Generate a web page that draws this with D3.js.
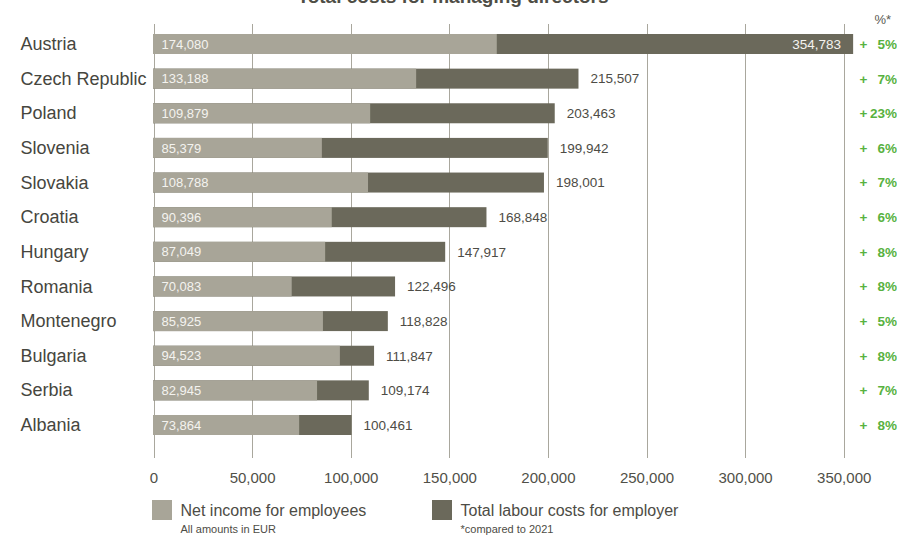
<!DOCTYPE html>
<html>
<head>
<meta charset="utf-8">
<script src="https://cdn.jsdelivr.net/npm/d3@7/dist/d3.min.js"></script>
<style>
  html, body { margin: 0; padding: 0; background: #ffffff; }
  svg { display: block; font-family: "Liberation Sans", Arial, Helvetica, sans-serif; }
</style>
</head>
<body>
<svg id="chart" width="897" height="538"></svg>
<script>
// Managing-director costs per country, in EUR
const countries = ["Austria", "Czech Republic", "Poland", "Slovenia", "Slovakia", "Croatia",
                   "Hungary", "Romania", "Montenegro", "Bulgaria", "Serbia", "Albania"];
const netIncome = [174080, 133188, 109879, 85379, 108788, 90396, 87049, 70083, 85925, 94523, 82945, 73864];
const totalCost = [354783, 215507, 203463, 199942, 198001, 168848, 147917, 122496, 118828, 111847, 109174, 100461];
const changePct = [5, 7, 23, 6, 7, 6, 8, 8, 5, 8, 7, 8];
const tickValues = [0, 50000, 100000, 150000, 200000, 250000, 300000, 350000];

const rows = countries.map((c, i) => ({
  country: c, net: netIncome[i], total: totalCost[i], pct: changePct[i]
}));

const colors = {
  net: "#a8a598",
  total: "#6b695b",
  grid: "#a9a79d",
  text: "#46463e",
  green: "#58b23f"
};

const svg = d3.select("#chart");
const fmt = d3.format(",");

const x = d3.scaleLinear().domain([0, 350000]).range([153.5, 843.7]);
const y = d3.scaleBand().domain(countries).range([34, 435]).paddingInner(0.4226).paddingOuter(0);

// Title
svg.append("text")
  .attr("x", 453).attr("y", 3)
  .attr("text-anchor", "middle")
  .attr("font-size", 19).attr("font-weight", "bold")
  .attr("fill", "#4e4d45")
  .text("Total costs for managing directors");

// Axis labels below the chart
const xAxis = d3.axisBottom(x).tickValues(tickValues).tickFormat(fmt).tickSize(0).tickPadding(0);
const gAxis = svg.append("g").attr("transform", "translate(0,458)").call(xAxis);
gAxis.select(".domain").remove();
gAxis.selectAll(".tick line").remove();
gAxis.selectAll(".tick text")
  .attr("y", 24.5).attr("dy", null)
  .attr("font-size", 15)
  .attr("font-family", "Liberation Sans, Arial, sans-serif")
  .attr("fill", "#505048");

// Vertical gridlines
svg.append("g").selectAll("line")
  .data(tickValues)
  .join("line")
  .attr("x1", d => Math.round(x(d)) + 0.5)
  .attr("x2", d => Math.round(x(d)) + 0.5)
  .attr("y1", 24).attr("y2", 458)
  .attr("stroke", colors.grid).attr("stroke-width", 1);

// Bars: total cost behind, net income in front
const bars = svg.append("g");
bars.selectAll("rect.total")
  .data(rows).join("rect")
  .attr("class", "total")
  .attr("x", x(0) - 0.5)
  .attr("y", d => y(d.country))
  .attr("width", d => x(d.total) - x(0) + 0.5)
  .attr("height", y.bandwidth())
  .attr("fill", colors.total);

bars.selectAll("rect.net")
  .data(rows).join("rect")
  .attr("class", "net")
  .attr("x", x(0) - 0.5)
  .attr("y", d => y(d.country))
  .attr("width", d => x(d.net) - x(0) + 0.5)
  .attr("height", y.bandwidth())
  .attr("fill", colors.net);

// Net income labels inside the light bars
svg.append("g").selectAll("text")
  .data(rows).join("text")
  .attr("x", x(0) + 8)
  .attr("y", d => y(d.country) + y.bandwidth() / 2)
  .attr("dy", "0.36em")
  .attr("font-size", 13)
  .attr("fill", "#f4f3ef")
  .text(d => fmt(d.net));

// Total labels: outside the bar, or inside when the bar reaches the right edge
svg.append("g").selectAll("text")
  .data(rows).join("text")
  .attr("x", d => d.total > 300000 ? x(d.total) - 12 : x(d.total) + 12)
  .attr("text-anchor", d => d.total > 300000 ? "end" : "start")
  .attr("y", d => y(d.country) + y.bandwidth() / 2)
  .attr("dy", "0.36em")
  .attr("font-size", 13.5)
  .attr("fill", d => d.total > 300000 ? "#f4f3ef" : "#4d4c45")
  .text(d => fmt(d.total));

// Country names
svg.append("g").selectAll("text")
  .data(rows).join("text")
  .attr("x", 20.5)
  .attr("y", d => y(d.country) + y.bandwidth() / 2)
  .attr("dy", "0.34em")
  .attr("font-size", 18)
  .attr("fill", colors.text)
  .text(d => d.country);

// Change versus 2021
svg.append("text")
  .attr("x", 891).attr("y", 23.5)
  .attr("text-anchor", "end")
  .attr("font-size", 13)
  .attr("fill", "#5a5a52")
  .text("%*");

const pct = svg.append("g").selectAll("g")
  .data(rows).join("g")
  .attr("transform", d => `translate(0,${y(d.country) + y.bandwidth() / 2})`);
pct.append("text")
  .attr("x", 859.5).attr("dy", "0.36em")
  .attr("font-size", 13.5).attr("font-weight", "bold")
  .attr("fill", colors.green)
  .text("+");
pct.append("text")
  .attr("x", 897).attr("dy", "0.36em")
  .attr("text-anchor", "end")
  .attr("font-size", 13.5).attr("font-weight", "bold")
  .attr("fill", colors.green)
  .text(d => d.pct + "%");

// Legend
const legend = [
  { label: "Net income for employees", note: "All amounts in EUR", color: colors.net, x: 152 },
  { label: "Total labour costs for employer", note: "*compared to 2021", color: colors.total, x: 432 }
];
const lg = svg.append("g").selectAll("g")
  .data(legend).join("g")
  .attr("transform", d => `translate(${d.x},500)`);
lg.append("rect")
  .attr("width", 20).attr("height", 20)
  .attr("fill", d => d.color);
lg.append("text")
  .attr("x", 28.5).attr("y", 16)
  .attr("font-size", 16)
  .attr("fill", "#4d4c45")
  .text(d => d.label);
lg.append("text")
  .attr("x", 28.5).attr("y", 33)
  .attr("font-size", 11)
  .attr("fill", "#4d4c45")
  .text(d => d.note);
</script>
</body>
</html>
